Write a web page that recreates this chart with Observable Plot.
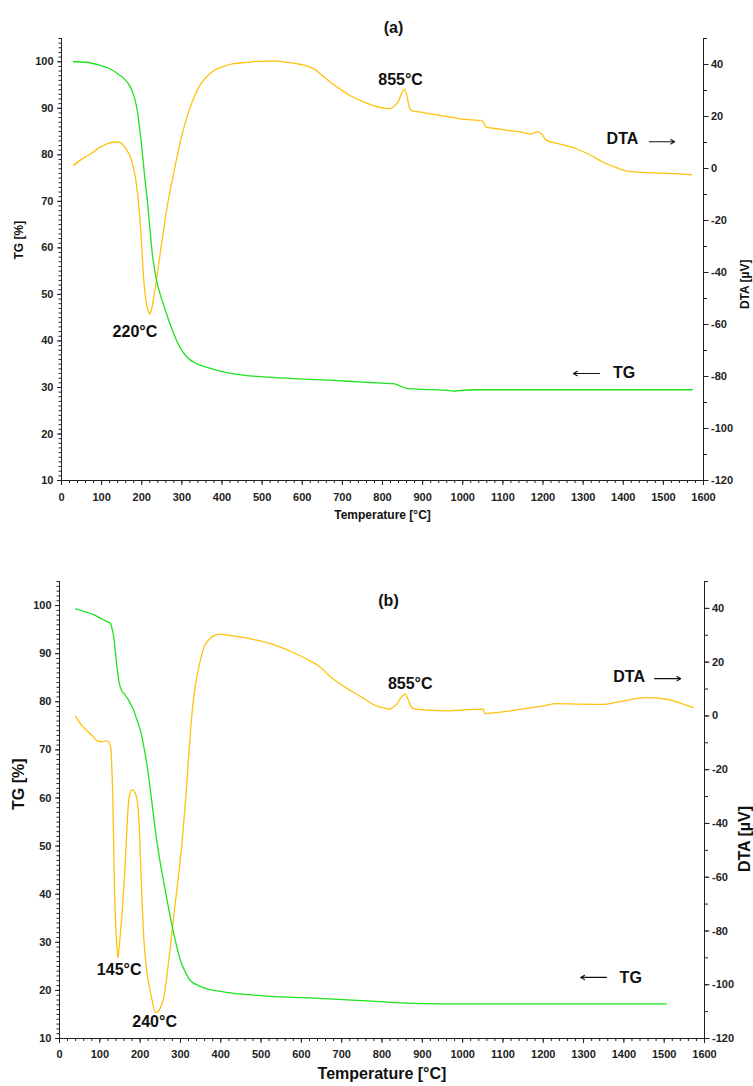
<!DOCTYPE html>
<html><head><meta charset="utf-8">
<script src="https://cdn.jsdelivr.net/npm/d3@7"></script>
<script src="https://cdn.jsdelivr.net/npm/@observablehq/plot@0.6"></script>
<style>
body{margin:0;background:#fff;}
#c{position:relative;width:753px;height:1086px;overflow:hidden;}
#c svg{position:absolute;left:0;}
</style></head><body><div id="c"></div>
<script>
// ---- Data: panel (a) ----
const tgA = [[30,100],[60,99.9],[97,99.2],[120,98.5],[147,97.0],[160,96],[172,94.5],[181,92.5],[189,89.5],[195,85.5],[201,80.9],[207,75.5],[214,70.1],[220,64.5],[226,59],[232,55.3],[238,52.6],[246,50],[255,47.6],[267,44.5],[280,41.5],[296,38.5],[313,36.5],[335,35.2],[363,34.3],[395,33.5],[429,32.9],[470,32.5],[513,32.2],[600,31.8],[679,31.5],[740,31.2],[785,31.0],[827,30.8],[845,30.3],[860,29.8],[900,29.6],[960,29.4],[976,29.2],[1000,29.4],[1034,29.5],[1100,29.5],[1200,29.5],[1300,29.5],[1400,29.5],[1500,29.5],[1572,29.5]];
const dtaA = [[30,1.2],[50,3.5],[72,5.6],[97,8.2],[115,9.6],[130,10.1],[142,10.2],[155,8.8],[165,6.5],[172,4.3],[178,1],[184,-3.3],[189,-9],[193,-14.9],[197,-23],[201,-32.8],[205,-43],[209,-49],[213,-53],[217,-55.3],[220,-56],[224,-54.5],[230,-49.5],[236,-43.5],[242,-37],[248,-30.5],[255,-23],[263,-14.9],[272,-7.5],[280,-1.5],[290,6],[301,13.3],[311,19],[321,23.6],[332,28],[342,31.3],[360,35],[380,37.7],[405,39.3],[429,40.3],[460,40.8],[488,41.2],[530,41.3],[565,40.8],[596,40],[615,39.3],[629,38.3],[650,35.8],[670,33.2],[695,30.5],[720,28],[750,25.8],[785,23.8],[805,23.2],[818,23],[830,24],[840,26],[848,29],[855,30.5],[860,28.5],[866,24],[872,22.3],[900,21.6],[926,20.8],[960,20],[993,19.1],[1020,18.7],[1047,18.5],[1052,17.5],[1059,15.9],[1090,15.2],[1117,14.6],[1145,14],[1167,13.3],[1180,13.8],[1188,14.2],[1198,13],[1209,10.8],[1240,9.5],[1283,7.6],[1320,5],[1350,2.4],[1380,0.5],[1408,-1],[1450,-1.5],[1491,-1.8],[1530,-2],[1570,-2.4]];
const notesA = [
  {text:"220°C", x:183, y:42.0},
  {text:"855°C", x:845, y:96.1},
  {text:"DTA", x:1398, y:83.5},
  {text:"TG", x:1402, y:33.2}
];
const arrowsA = [
  {x1:1465, y1:82.8, x2:1528, y2:82.8},
  {x1:1341, y1:33.0, x2:1276, y2:33.0}
];

// ---- Data: panel (b) ----
const tgB = [[40,99.3],[60,98.8],[85,98.1],[105,97.2],[120,96.6],[127,96.2],[131,95],[135,93.2],[139,90],[143,87],[148,84],[155,82.2],[162,81.5],[168,80.8],[176,79.6],[184,78.2],[192,76.3],[201,73.9],[210,70.3],[218,66.3],[226,61.3],[234,55.8],[242,50.7],[250,46.5],[262,41],[275,35.2],[287,30.5],[300,26.2],[312,23.8],[325,22],[345,21],[366,20.3],[400,19.8],[432,19.4],[470,19.1],[515,18.8],[600,18.5],[680,18.2],[786,17.7],[869,17.3],[950,17.2],[1100,17.2],[1300,17.2],[1506,17.2]];
const dtaB = [[40,-0.3],[55,-3.5],[69,-5.6],[82,-7.5],[94,-9.3],[105,-9.6],[118,-9.3],[125,-10.5],[128,-13],[130,-20],[132,-29],[134,-45],[136,-62],[139,-76],[142,-85],[145,-90],[148,-86],[152,-79],[156,-72],[161,-60],[165,-49],[169,-37],[172,-31],[177,-28],[182,-27.5],[187,-28.5],[193,-31.6],[197,-39],[201,-53.9],[205,-70],[209,-82.4],[215,-93],[222,-100],[230,-106],[238,-110.3],[244,-110],[252,-108],[259,-104.5],[267,-96],[275,-86],[283,-75],[292,-63.5],[300,-53],[307,-42],[314,-29],[320,-16],[326,-3.5],[333,7],[342,15.5],[350,21],[358,25.4],[366,27.5],[375,29.1],[390,30.2],[399,30.4],[420,30],[449,29.4],[480,28.5],[515,27.3],[550,25.5],[581,23.5],[615,21],[648,18],[665,15.5],[680,13.6],[705,11],[730,8.7],[760,6],[786,3.7],[805,3],[819,2.5],[828,3.3],[836,4.3],[846,6.5],[857,8.1],[865,6],[872,3.5],[882,2.5],[920,2.1],[952,1.9],[1000,2.2],[1051,2.5],[1055,0.9],[1080,1.2],[1117,1.9],[1160,2.8],[1200,3.7],[1233,4.6],[1290,4.4],[1349,4.3],[1380,5],[1407,5.8],[1456,6.8],[1480,6.7],[1506,6.2],[1540,4.8],[1572,3.1]];
const notesB = [
  {text:"855°C", x:870, y:83.7},
  {text:"DTA", x:1413, y:85.1},
  {text:"TG", x:1417, y:22.6},
  {text:"145°C", x:148, y:24.3},
  {text:"240°C", x:236, y:13.5}
];
const arrowsB = [
  {x1:1476, y1:84.8, x2:1541, y2:84.8},
  {x1:1357, y1:22.7, x2:1293, y2:22.7}
];

// ---- Axes ----
const xMajor = d3.range(0, 1601, 100);
const xMinor = d3.range(0, 1601, 20);
const tgMajor = d3.range(10, 101, 10);
const tgMinor = d3.range(10, 106, 1);
const dtaMajor = d3.range(-120, 41, 20);
const dtaMinor = d3.range(-120, 51, 10);
const TG_DOMAIN = [10, 105];
const DTA_DOMAIN = [-120, 50];

const toTG = d => TG_DOMAIN[0] + (d - DTA_DOMAIN[0]) * (TG_DOMAIN[1]-TG_DOMAIN[0]) / (DTA_DOMAIN[1]-DTA_DOMAIN[0]);
const fromTG = v => DTA_DOMAIN[0] + (v - TG_DOMAIN[0]) * (DTA_DOMAIN[1]-DTA_DOMAIN[0]) / (TG_DOMAIN[1]-TG_DOMAIN[0]);

const GREEN = "#1ee31e", GOLD = "#ffc20e", AX = "#222";

function panel(cfg) {
  const tg = cfg.tg.map(([t, v]) => ({t, v}));
  const dta = cfg.dta.map(([t, d]) => ({t, v: toTG(d)}));
  const s = cfg.big ? 16 : 12;
  const svg = Plot.plot({
    width: 753, height: cfg.height,
    marginTop: cfg.mt, marginBottom: cfg.mb, marginLeft: cfg.ml, marginRight: cfg.mr,
    style: {fontFamily: "'Liberation Sans', Arial, sans-serif", fontWeight: "bold", fontSize: "11px", color: AX, background: "white"},
    x: {domain: [0, 1600]},
    y: {domain: TG_DOMAIN},
    marks: [
      Plot.axisX(xMinor, {tickSize: 3, fill: "none", label: null}),
      Plot.axisX(xMajor, {tickSize: 5, tickPadding: cfg.xpad, label: null, fontSize: 11, tickFormat: d => String(d)}),
      Plot.axisY(tgMinor, {anchor: "left", tickSize: 2.5, fill: "none", label: null}),
      Plot.axisY(tgMajor, {anchor: "left", tickSize: 4, tickPadding: 4, label: null, fontSize: 11, tickFormat: d => String(d)}),
      Plot.axisY(dtaMinor.map(toTG), {anchor: "right", tickSize: 3, fill: "none", label: null}),
      Plot.axisY(dtaMajor.map(toTG), {anchor: "right", tickSize: 4.5, tickPadding: 3, label: null, fontSize: 11, tickFormat: v => String(Math.round(fromTG(v)))}),
      Plot.ruleX([0], {stroke: AX}),
      Plot.ruleX([1600], {stroke: AX}),
      Plot.ruleY([TG_DOMAIN[0]], {stroke: AX}),
      Plot.line(dta, {x: "t", y: "v", stroke: GOLD, strokeWidth: 1.3, curve: "monotone-x"}),
      Plot.line(tg, {x: "t", y: "v", stroke: GREEN, strokeWidth: 1.3, curve: "monotone-x"}),
      Plot.text(cfg.notes, {x: "x", y: "y", text: "text", fontSize: 16, fontWeight: "bold", fill: "#111"}),
      Plot.arrow(cfg.arrows, {x1: "x1", y1: "y1", x2: "x2", y2: "y2", stroke: "#111", strokeWidth: 1.1, headLength: 6}),
      Plot.text([cfg.title], {frameAnchor: "top", dx: cfg.tdx, dy: cfg.tdy, fontSize: 16, fontWeight: "bold", fill: "#111"}),
      Plot.text(["Temperature [°C]"], {frameAnchor: "bottom", dy: cfg.xldy, fontSize: s, fontWeight: "bold", fill: "#111"}),
      Plot.text(["TG [%]"], {frameAnchor: "left", dx: cfg.lldx, rotate: -90, fontSize: s, fontWeight: "bold", fill: "#111"}),
      Plot.text(["DTA [µV]"], {frameAnchor: "right", dx: cfg.rldx, dy: cfg.rldy, rotate: -90, fontSize: s, fontWeight: "bold", fill: "#111"})
    ]
  });
  svg.style.top = cfg.top + "px";
  document.getElementById("c").appendChild(svg);
}

panel({tg: tgA, dta: dtaA, notes: notesA, arrows: arrowsA, title: "(a)",
  height: 540, top: 0, mt: 38, mb: 60, ml: 61, mr: 50, xpad: 8,
  tdx: 11, tdy: -17, xldy: 38, lldx: -42, rldx: 42, rldy: 0, big: false});
panel({tg: tgB, dta: dtaB, notes: notesB, arrows: arrowsB, title: "(b)",
  height: 546, top: 540, mt: 41, mb: 48, ml: 59, mr: 49, xpad: 7,
  tdx: 6.5, tdy: 13, xldy: 40, lldx: -41, rldx: 40, rldy: -4, big: true});
</script>
</body></html>
